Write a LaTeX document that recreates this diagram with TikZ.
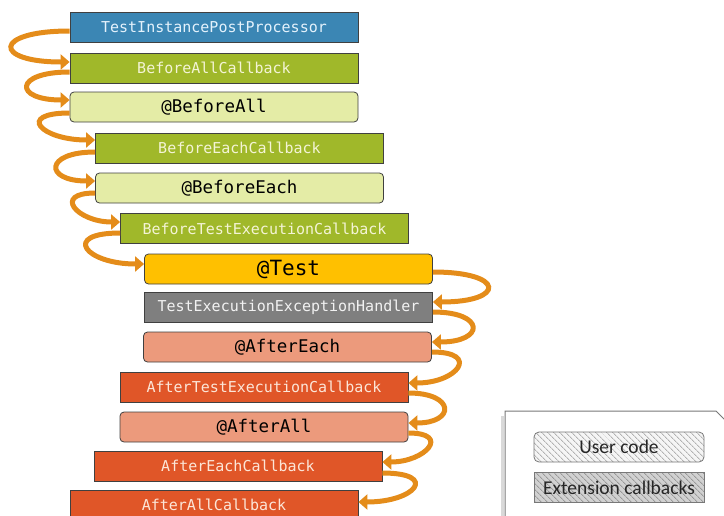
\documentclass[tikz,border=0pt]{standalone}
\usepackage{fontspec}
\newfontfamily\codefont{DejaVu Sans Mono}
\newfontfamily\legendfont{Carlito}
\usetikzlibrary{arrows.meta,patterns.meta}

\definecolor{boxline}{RGB}{64,64,64}
\definecolor{cblue}{RGB}{59,134,180}
\definecolor{cbluetext}{RGB}{228,242,252}
\definecolor{cgreen}{RGB}{160,184,42}
\definecolor{cgreentext}{RGB}{244,244,214}
\definecolor{ulight}{RGB}{228,236,166}
\definecolor{utest}{RGB}{255,192,0}
\definecolor{cgray}{RGB}{127,127,127}
\definecolor{cgraytext}{RGB}{242,242,242}
\definecolor{usalmon}{RGB}{236,154,124}
\definecolor{cred}{RGB}{224,86,40}
\definecolor{credtext}{RGB}{252,230,216}
\definecolor{arroworange}{RGB}{228,140,26}
\definecolor{legendline}{RGB}{120,120,120}

\begin{document}
\begin{tikzpicture}[x=1pt,y=-1pt,
  cbbox/.style={draw=boxline, line width=0.8pt, minimum width=288pt,
    minimum height=30pt, inner sep=0pt, anchor=center,
    font=\codefont\fontsize{15}{15}\selectfont},
  ucbox/.style={cbbox, rounded corners=4pt, text=black,
    font=\codefont\fontsize{17.5}{17.5}\selectfont},
  flow/.style={draw=arroworange, line width=5pt,
    -{Triangle[width=15pt,length=9pt]}},
  legendbox/.style={draw=legendline, line width=0.8pt, minimum width=170pt,
    minimum height=30pt, inner sep=0pt},
  legendtext/.style={text=black!85, font=\legendfont\fontsize{19.5}{19.5}\selectfont},
]
\useasboundingbox (0,0) rectangle (724,515);
\clip (0,0) rectangle (724,515);

% extension points and user code, in execution order
\node[cbbox, fill=cblue, text=cbluetext] (tipp) at (214,27.5) {TestInstancePostProcessor};
\node[cbbox, fill=cgreen, text=cgreentext] (bac) at (214,68) {BeforeAllCallback};
\node[ucbox, fill=ulight] (ba) at (214,107) {@BeforeAll};
\node[cbbox, fill=cgreen, text=cgreentext] (bec) at (239.5,148) {BeforeEachCallback};
\node[ucbox, fill=ulight] (be) at (239.5,188) {@BeforeEach};
\node[cbbox, fill=cgreen, text=cgreentext] (btec) at (264.5,228.5) {BeforeTestExecutionCallback};
\node[ucbox, fill=utest, font=\codefont\fontsize{21}{21}\selectfont] (test) at (288.5,269) {@Test};
\node[cbbox, fill=cgray, text=cgraytext] (teeh) at (288.5,307) {TestExecutionExceptionHandler};
\node[ucbox, fill=usalmon] (ae) at (287.5,347) {@AfterEach};
\node[cbbox, fill=cred, text=credtext] (atec) at (264,387) {AfterTestExecutionCallback};
\node[ucbox, fill=usalmon] (aa) at (264,427) {@AfterAll};
\node[cbbox, fill=cred, text=credtext] (aec) at (238,466) {AfterEachCallback};
\node[cbbox, fill=cred, text=credtext] (aac) at (214,505) {AfterAllCallback};

% flow on the left side
\draw[flow] ([yshift=-3.5pt]tipp.west) .. controls +(-77,0) and +(-77,0) .. ([yshift=6pt]bac.west);
\draw[flow] ([yshift=-4pt]bac.west) .. controls +(-56,0) and +(-56,0) .. ([yshift=7pt]ba.west);
\draw[flow] ([yshift=-6pt]ba.west) .. controls +(-54,0) and +(-54,0) .. ([yshift=8pt]bec.west);
\draw[flow] ([yshift=-4pt]bec.west) .. controls +(-51,0) and +(-51,0) .. ([yshift=7pt]be.west);
\draw[flow] ([yshift=-5pt]be.west) .. controls +(-43,0) and +(-43,0) .. ([yshift=6.5pt]btec.west);
\draw[flow] ([yshift=-4.5pt]btec.west) .. controls +(-59,0) and +(-59,0) .. ([yshift=5pt]test.west);

% flow on the right side
\draw[flow] ([yshift=-3pt]test.east) .. controls +(73,0) and +(73,0) .. ([yshift=5pt]teeh.east);
\draw[flow] ([yshift=-5pt]teeh.east) .. controls +(53,0) and +(53,0) .. ([yshift=5pt]ae.east);
\draw[flow] ([yshift=-5pt]ae.east) .. controls +(49,0) and +(49,0) .. ([yshift=4pt]atec.east);
\draw[flow] ([yshift=-6pt]atec.east) .. controls +(47,0) and +(47,0) .. ([yshift=4pt]aa.east);
\draw[flow] ([yshift=-6pt]aa.east) .. controls +(43,0) and +(43,0) .. ([yshift=4pt]aec.east);
\draw[flow] ([yshift=-7pt]aec.east) .. controls +(57,0) and +(57,0) .. ([yshift=3pt]aac.east);

% legend card with a folded corner
\draw[black!15, line width=3pt] (502.5,416) -- (502.5,520);
\draw[legendline, line width=1pt, fill=white]
  (505,520) -- (505,411) -- (716,411) -- (730,425) -- (730,520);
\node[legendbox, rounded corners=5pt,
  preaction={fill=black!4},
  pattern={Lines[angle=-45,distance=4pt,line width=0.9pt]}, pattern color=black!30]
  (legu) at (619,447) {};
\node[legendtext] at (legu) {User code};
\node[legendbox, preaction={fill=black!18},
  pattern={Lines[angle=-45,distance=4pt,line width=0.9pt]}, pattern color=black!40]
  (lege) at (619,487.5) {};
\node[legendtext] at (lege) {Extension callbacks};
\end{tikzpicture}
\end{document}
